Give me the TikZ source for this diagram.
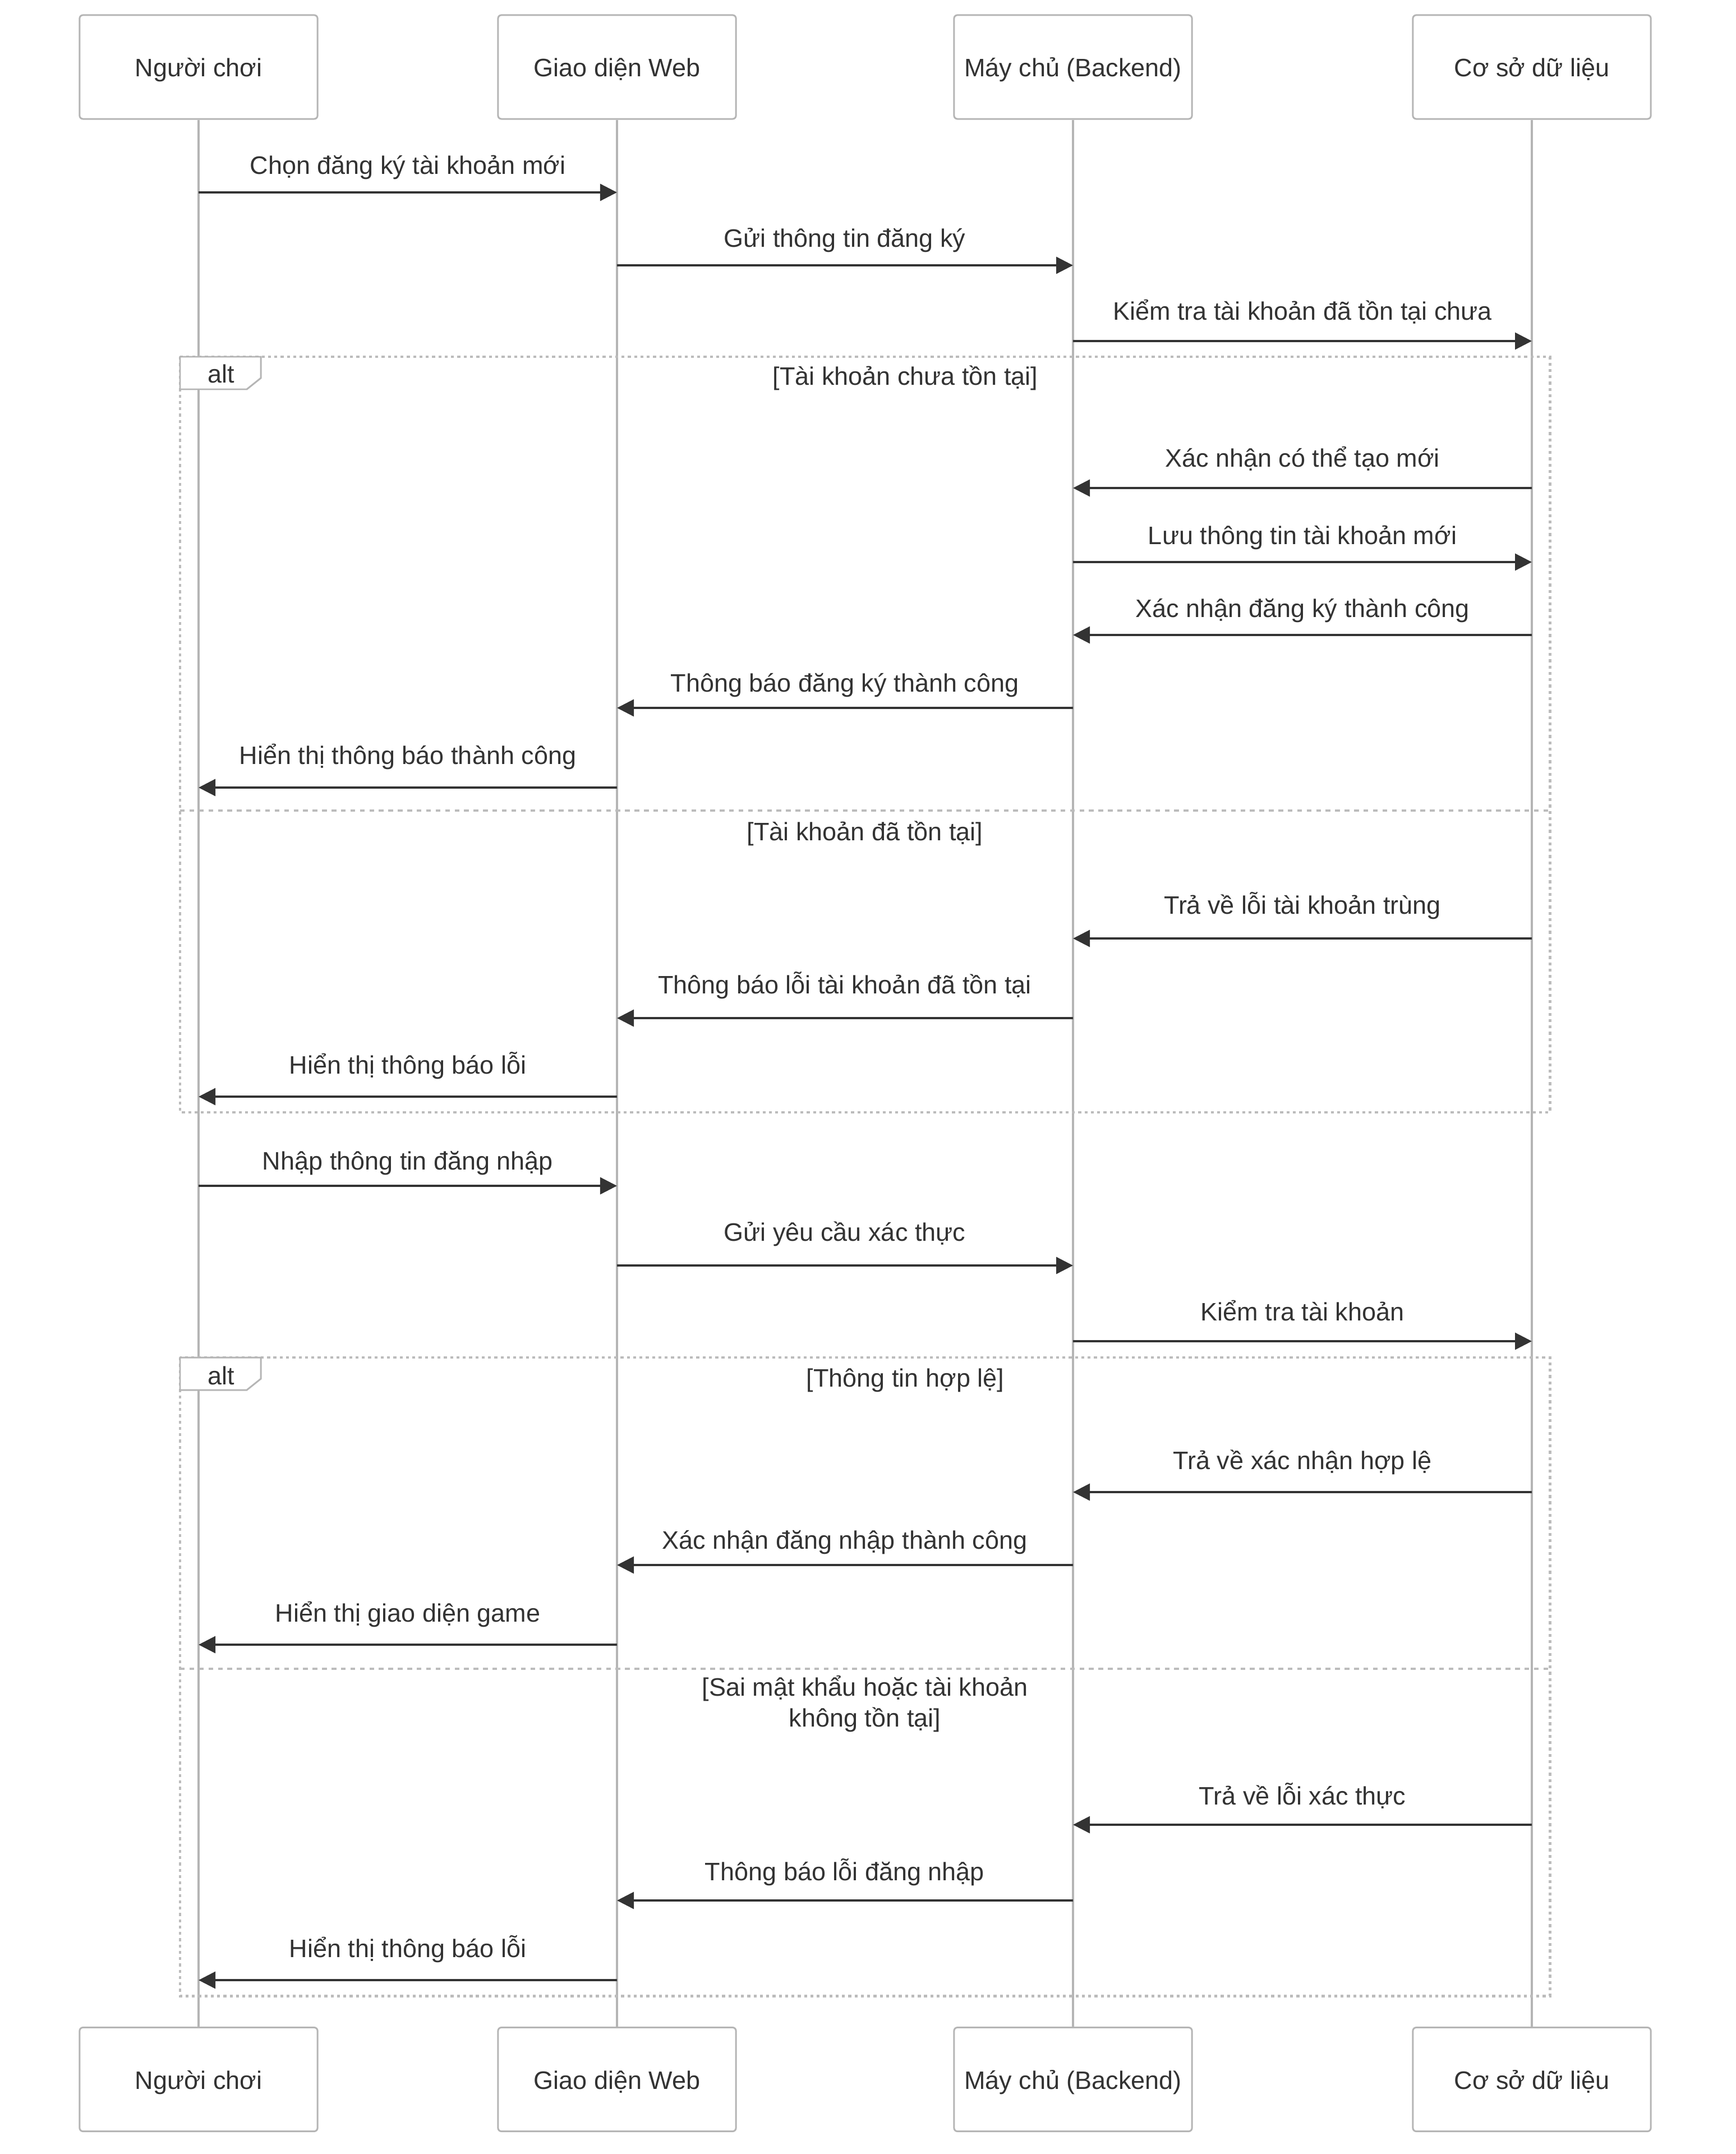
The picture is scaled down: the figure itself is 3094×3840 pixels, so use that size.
\documentclass[tikz,border=0pt]{standalone}
\usepackage{fontspec}
\setmainfont{Liberation Sans}
\usetikzlibrary{arrows.meta}

\definecolor{ink}{HTML}{333333}
\definecolor{linegray}{HTML}{B5B5B5}
\definecolor{framegray}{HTML}{BCBCBC}

\tikzset{
  every node/.style={font=\fontsize{12.8}{15.4}\selectfont, text=ink},
  actor/.style={draw=linegray, line width=0.85pt, fill=white, rounded corners=0.06cm,
    minimum width=4.24cm, minimum height=1.85cm, text height=0.35cm, text depth=0pt},
  lifeline/.style={draw=linegray, line width=1.2pt},
  msg/.style={draw=ink, line width=0.95pt, -{Triangle[length=0.30cm, width=0.30cm]}},
  lbl/.style={anchor=base},
  frame/.style={draw=framegray, line width=1.4pt, dash pattern=on 1.5pt off 1.7pt},
  divider/.style={draw=framegray, line width=1.15pt, dash pattern=on 2.4pt off 2.4pt},
  tab/.style={draw=linegray, line width=0.85pt, fill=white}
}

\begin{document}
\begin{tikzpicture}[x=0.01cm, y=-0.01cm]
  \useasboundingbox (0,0) rectangle (3094,3840);

  % Actors (top row)
  \node[actor] (p) at (354,119.5) {Người chơi};
  \node[actor] (w) at (1100,119.5) {Giao diện Web};
  \node[actor] (b) at (1913,119.5) {Máy chủ (Backend)};
  \node[actor] (d) at (2731,119.5) {Cơ sở dữ liệu};

  % Actors (bottom row)
  \node[actor] (pb) at (354,3707) {Người chơi};
  \node[actor] (wb) at (1100,3707) {Giao diện Web};
  \node[actor] (bb) at (1913,3707) {Máy chủ (Backend)};
  \node[actor] (db) at (2731,3707) {Cơ sở dữ liệu};

  % Lifelines
  \draw[lifeline] (p.south) -- (pb.north);
  \draw[lifeline] (w.south) -- (wb.north);
  \draw[lifeline] (b.south) -- (bb.north);
  \draw[lifeline] (d.south) -- (db.north);

  % Alt frame 1: registration
  \draw[frame] (321,636) rectangle (2763,1983);
  \draw[divider] (321,1445) -- (2763,1445);
  \draw[tab] (321,636) -- (465,636) -- (465,674) -- (440,694) -- (321,694) -- cycle;
  \node[lbl] (alt1) at (394,683) {alt};
  \node[lbl] (cond1) at (1614,687) {[Tài khoản chưa tồn tại]};
  \node[lbl] (cond2) at (1542,1498) {[Tài khoản đã tồn tại]};

  % Alt frame 2: login
  \draw[frame] (321,2420) rectangle (2763,3558);
  \draw[divider] (321,2975) -- (2763,2975);
  \draw[tab] (321,2420) -- (465,2420) -- (465,2458) -- (440,2478) -- (321,2478) -- cycle;
  \node[lbl] (alt2) at (394,2468) {alt};
  \node[lbl] (cond3) at (1614,2472) {[Thông tin hợp lệ]};
  \node[lbl] (cond4a) at (1542,3023) {[Sai mật khẩu hoặc tài khoản};
  \node[lbl] (cond4b) at (1542,3078) {không tồn tại]};

  % Registration messages
  \draw[msg] (p |- 0,343) -- (w |- 0,343);
  \node[lbl] (m1) at (727,311) {Chọn đăng ký tài khoản mới};
  \draw[msg] (w |- 0,473) -- (b |- 0,473);
  \node[lbl] (m2) at (1506,441) {Gửi thông tin đăng ký};
  \draw[msg] (b |- 0,608) -- (d |- 0,608);
  \node[lbl] (m3) at (2322,571) {Kiểm tra tài khoản đã tồn tại chưa};
  \draw[msg] (d |- 0,870) -- (b |- 0,870);
  \node[lbl] (m4) at (2322,833) {Xác nhận có thể tạo mới};
  \draw[msg] (b |- 0,1002) -- (d |- 0,1002);
  \node[lbl] (m5) at (2322,970) {Lưu thông tin tài khoản mới};
  \draw[msg] (d |- 0,1132) -- (b |- 0,1132);
  \node[lbl] (m6) at (2322,1100) {Xác nhận đăng ký thành công};
  \draw[msg] (b |- 0,1262) -- (w |- 0,1262);
  \node[lbl] (m7) at (1506,1233) {Thông báo đăng ký thành công};
  \draw[msg] (w |- 0,1404) -- (p |- 0,1404);
  \node[lbl] (m8) at (727,1362) {Hiển thị thông báo thành công};
  \draw[msg] (d |- 0,1673) -- (b |- 0,1673);
  \node[lbl] (m9) at (2322,1629) {Trả về lỗi tài khoản trùng};
  \draw[msg] (b |- 0,1815) -- (w |- 0,1815);
  \node[lbl] (m10) at (1506,1771) {Thông báo lỗi tài khoản đã tồn tại};
  \draw[msg] (w |- 0,1955) -- (p |- 0,1955);
  \node[lbl] (m11) at (727,1914) {Hiển thị thông báo lỗi};

  % Login messages
  \draw[msg] (p |- 0,2114) -- (w |- 0,2114);
  \node[lbl] (m12) at (727,2085) {Nhập thông tin đăng nhập};
  \draw[msg] (w |- 0,2256) -- (b |- 0,2256);
  \node[lbl] (m13) at (1506,2212) {Gửi yêu cầu xác thực};
  \draw[msg] (b |- 0,2391) -- (d |- 0,2391);
  \node[lbl] (m14) at (2322,2354) {Kiểm tra tài khoản};
  \draw[msg] (d |- 0,2660) -- (b |- 0,2660);
  \node[lbl] (m15) at (2322,2619) {Trả về xác nhận hợp lệ};
  \draw[msg] (b |- 0,2790) -- (w |- 0,2790);
  \node[lbl] (m16) at (1506,2761) {Xác nhận đăng nhập thành công};
  \draw[msg] (w |- 0,2932) -- (p |- 0,2932);
  \node[lbl] (m17) at (727,2891) {Hiển thị giao diện game};
  \draw[msg] (d |- 0,3253) -- (b |- 0,3253);
  \node[lbl] (m18) at (2322,3217) {Trả về lỗi xác thực};
  \draw[msg] (b |- 0,3388) -- (w |- 0,3388);
  \node[lbl] (m19) at (1506,3352) {Thông báo lỗi đăng nhập};
  \draw[msg] (w |- 0,3530) -- (p |- 0,3530);
  \node[lbl] (m20) at (727,3489) {Hiển thị thông báo lỗi};
\end{tikzpicture}
\end{document}
